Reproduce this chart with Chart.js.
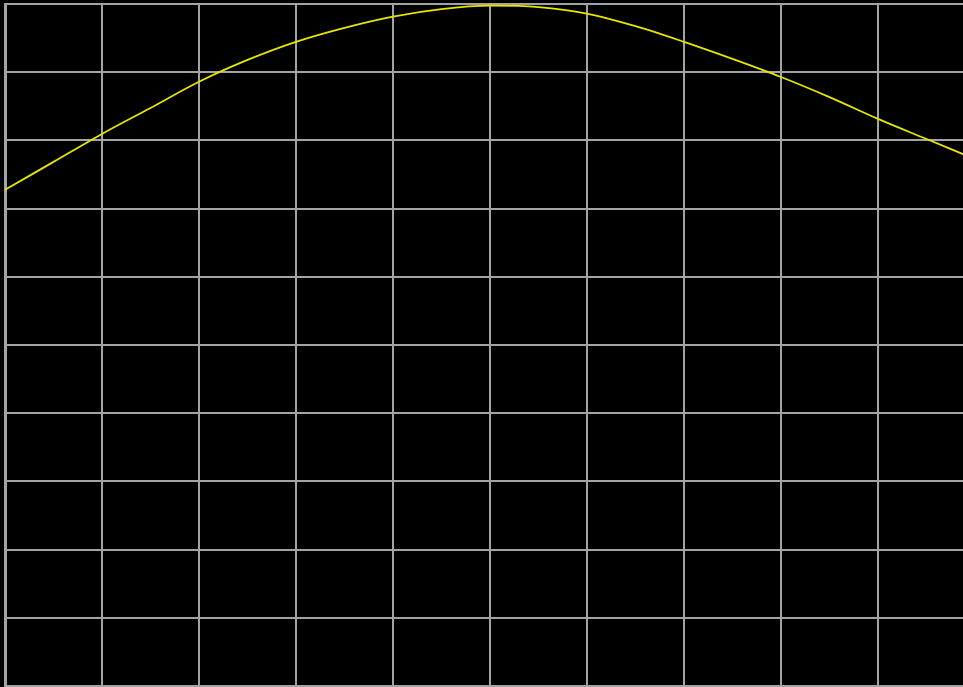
<!DOCTYPE html>
<html>
<head>
<meta charset="utf-8">
<script src="https://cdn.jsdelivr.net/npm/chart.js@4"></script>
<style>
  html, body { margin: 0; padding: 0; background: #000; overflow: hidden; }
  #myChart { display: block; }
</style>
</head>
<body>
<canvas id="myChart" width="980" height="687"></canvas>
<script>
// sample positions (grid units) and the curve
const xValues = [0, 0.5, 1, 1.5, 2, 2.5, 3, 3.5, 4, 4.5, 5, 5.5, 6, 6.5, 7, 7.5, 8, 8.5, 9, 9.5, 9.9];
const yValues = [0.455, 0.537, 0.619, 0.695, 0.772, 0.836, 0.889, 0.930, 0.963, 0.985, 0.995, 0.991, 0.972, 0.935, 0.889, 0.839, 0.786, 0.727, 0.663, 0.604, 0.557];

const points = xValues.map((x, i) => ({ x: x, y: yValues[i] }));

const gridColor = '#a3a3a3';

const data = {
  datasets: [{
    data: points,
    borderColor: 'rgb(230, 230, 0)',
    borderWidth: 1.8,
    pointRadius: 0,
    cubicInterpolationMode: 'monotone',
    fill: false
  }]
};

const config = {
  type: 'line',
  data: data,
  options: {
    responsive: false,
    animation: false,
    layout: { padding: { left: 5, top: 4, right: 5, bottom: 1 } },
    plugins: { legend: { display: false }, tooltip: { enabled: false } },
    scales: {
      x: {
        type: 'linear',
        min: 0,
        max: 10,
        ticks: { display: false, stepSize: 1 },
        grid: { color: gridColor, lineWidth: 2, drawTicks: false },
        border: { color: gridColor, width: 2 }
      },
      y: {
        min: -1,
        max: 1,
        ticks: { display: false, stepSize: 0.2 },
        grid: { color: gridColor, lineWidth: 2, drawTicks: false },
        border: { color: gridColor, width: 3 }
      }
    }
  }
};

const myChart = new Chart(document.getElementById('myChart'), config);
</script>
</body>
</html>
